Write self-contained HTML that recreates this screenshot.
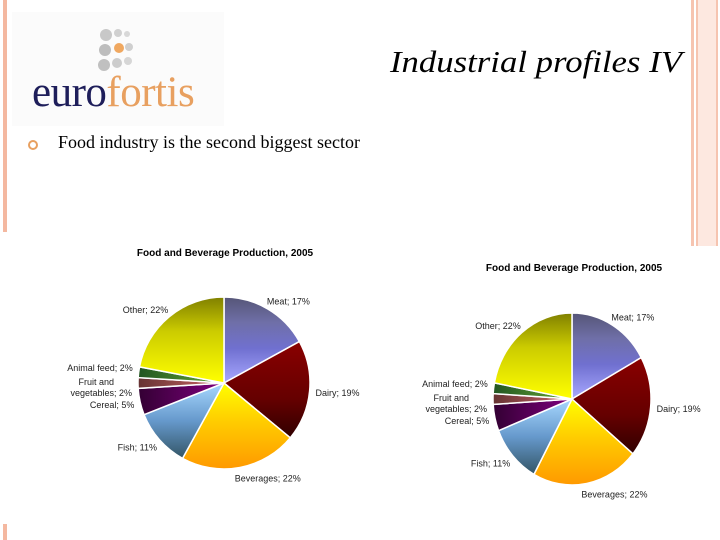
<!DOCTYPE html>
<html><head><meta charset="utf-8"><style>
body{margin:0;width:720px;height:540px;background:#fff;position:relative;overflow:hidden;font-family:"Liberation Sans",sans-serif}
.abs{position:absolute}
</style></head><body>
<div class="abs" style="left:3px;top:0;width:4px;height:232px;background:#f4b8a0"></div>
<div class="abs" style="left:3px;top:524px;width:4px;height:16px;background:#f4b8a0"></div>
<div class="abs" style="left:688px;top:0;width:32px;height:246px;background:linear-gradient(90deg,#fff 0,#fff 3px,#f6c4b0 3px,#f6c4b0 6px,#fff 6px,#fff 8px,#f6c4b0 8px,#f6c4b0 10px,#fde8e0 10px,#fde8e0 28px,#f6c4b0 28px,#f6c4b0 30px,#fff 30px)"></div>
<div class="abs" style="left:12px;top:12px;width:212px;height:114px;background:#fbfbfb">
  <svg width="212" height="114">
    <circle cx="94" cy="23" r="6" fill="#c8c8c8"/><circle cx="106" cy="21" r="4" fill="#d0d0d0"/><circle cx="115" cy="22" r="3" fill="#d8d8d8"/>
    <circle cx="93" cy="38" r="6" fill="#bdbdbd"/><circle cx="107" cy="36" r="5" fill="#f0a860"/><circle cx="117" cy="35" r="4" fill="#cfcfcf"/>
    <circle cx="92" cy="53" r="6" fill="#c0c0c0"/><circle cx="105" cy="51" r="5" fill="#cccccc"/><circle cx="116" cy="49" r="4" fill="#d6d6d6"/>
  </svg>
</div>
<div class="abs" style="left:32px;top:68px;font-family:'Liberation Serif',serif;font-size:43px;color:#1e1e5a;letter-spacing:-0.5px;transform:scaleX(1.0)">euro<span style="color:#e8a060">fortis</span></div>
<div class="abs" style="left:390px;top:44px;font-family:'Liberation Serif',serif;font-style:italic;font-size:31px;color:#000;transform-origin:0 0;transform:scaleX(1.12)">Industrial profiles IV</div>
<div class="abs" style="left:28px;top:140px;width:6px;height:6px;border:2px solid #e8a060;border-radius:50%"></div>
<div class="abs" style="left:58px;top:132px;font-family:'Liberation Serif',serif;font-size:18px;color:#000">Food industry is the second biggest sector</div>
<svg id="chart" class="abs" style="left:0;top:0" width="720" height="540">
<defs>
<linearGradient id="g0" x1="0" y1="0" x2="0" y2="1"><stop offset="0" stop-color="#555577"/><stop offset="0.3" stop-color="#6f6fa8"/><stop offset="0.6" stop-color="#7070d0"/><stop offset="1" stop-color="#a8a8ff"/></linearGradient>
<linearGradient id="g1" x1="0" y1="0" x2="0" y2="1"><stop offset="0" stop-color="#8a0000"/><stop offset="0.6" stop-color="#650000"/><stop offset="1" stop-color="#300000"/></linearGradient>
<linearGradient id="g2" x1="0" y1="0" x2="0" y2="1"><stop offset="0" stop-color="#ffff00"/><stop offset="0.45" stop-color="#ffcc00"/><stop offset="1" stop-color="#ff9900"/></linearGradient>
<linearGradient id="g3" x1="0" y1="0" x2="0" y2="1"><stop offset="0" stop-color="#a8d8ff"/><stop offset="0.5" stop-color="#6699cc"/><stop offset="1" stop-color="#335566"/></linearGradient>
<linearGradient id="g4" x1="1" y1="0" x2="0" y2="0"><stop offset="0" stop-color="#800080"/><stop offset="1" stop-color="#330033"/></linearGradient>
<linearGradient id="g5" x1="1" y1="0" x2="0" y2="0"><stop offset="0" stop-color="#cc6666"/><stop offset="1" stop-color="#663333"/></linearGradient>
<linearGradient id="g6" x1="1" y1="0" x2="0" y2="0"><stop offset="0" stop-color="#66aa33"/><stop offset="1" stop-color="#225522"/></linearGradient>
<linearGradient id="g7" x1="0" y1="0" x2="0" y2="1"><stop offset="0" stop-color="#808000"/><stop offset="0.4" stop-color="#cccc00"/><stop offset="1" stop-color="#ffff00"/></linearGradient>
</defs>
</svg>
<script>
const categories = ["Meat","Dairy","Beverages","Fish","Cereal","Fruit and vegetables","Animal feed","Other"];
const values = [17,19,22,11,5,2,2,22];
const chartTitle = "Food and Beverage Production, 2005";
const svg = document.getElementById('chart');
const NS = 'http://www.w3.org/2000/svg';
function mk(tag, attrs){const e=document.createElementNS(NS,tag);for(const k in attrs)e.setAttribute(k,attrs[k]);svg.appendChild(e);return e;}
function drawPie(cx,cy,rx,ry,titleX,titleY,fs,id){
  const total = values.reduce((a,b)=>a+b,0);
  const t = mk('text',{x:titleX,y:titleY,'font-size':fs+1,'font-weight':'bold','text-anchor':'middle',fill:'#000'});
  t.textContent = chartTitle;
  
  
  let acc = 0;
  values.forEach((v,i)=>{
    const a0 = acc/total*2*Math.PI, a1 = (acc+v)/total*2*Math.PI; acc += v;
    const p = a => [cx+rx*Math.sin(a), cy-ry*Math.cos(a)];
    const [x0,y0]=p(a0),[x1,y1]=p(a1);
    const large = (a1-a0)>Math.PI?1:0;
    const path = mk('path',{d:`M${cx},${cy}L${x0},${y0}A${rx},${ry} 0 ${large} 1 ${x1},${y1}Z`,fill:`url(#g${i})`,stroke:'#fff','stroke-width':1.5});
    
    
    const am = (a0+a1)/2;
    const right = Math.sin(am) > 0.05;
    const lx = cx + (rx+14)*Math.sin(am) + (right?-8:8);
    let ly = cy - (ry+10)*Math.cos(am);
    if (categories[i] === "Animal feed") ly -= 4;
    const lab = mk('text',{x:lx,y:ly+4,'font-size':fs,'text-anchor':right?'start':'end',fill:'#222'});
    const txt = categories[i]+'; '+v+'%';
    if (categories[i] === "Fruit and vegetables") {
      const s1 = document.createElementNS(NS,'tspan'); s1.setAttribute('x',lx-18); s1.setAttribute('dy','-2'); s1.textContent='Fruit and';
      const s2 = document.createElementNS(NS,'tspan'); s2.setAttribute('x',lx); s2.setAttribute('dy','11'); s2.textContent='vegetables; '+v+'%';
      lab.appendChild(s1); lab.appendChild(s2);
    } else lab.textContent = txt;
    
    
  });
}
drawPie(224,383,86,86,225,256,9,'left-pie');
drawPie(572,399,79,86,574,271,9,'right-pie');
</script>
</body></html>
